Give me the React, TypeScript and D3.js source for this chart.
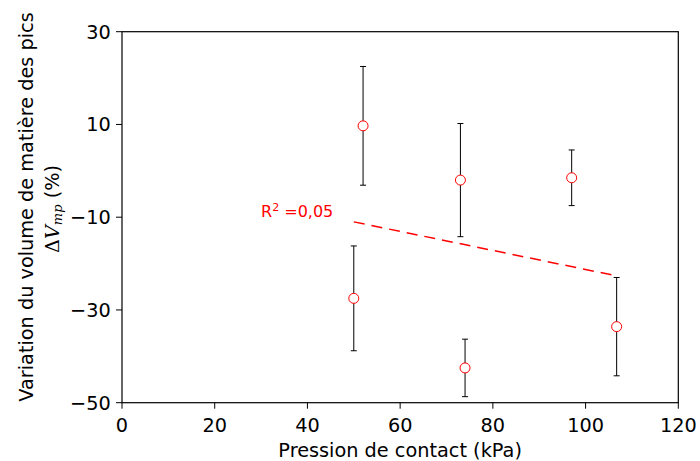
import React from "react";
import * as d3 from "d3";

const pressure = [50, 52, 73, 74, 97, 106.7];
const deltaV = [-27.5, 9.7, -2.0, -42.5, -1.5, -33.6];
const errorV = [11.3, 12.8, 12.2, 6.2, 6.0, 10.6];
const xTicks = [0, 20, 40, 60, 80, 100, 120];
const yTicks = [-50, -30, -10, 10, 30];
const r2Label = "=0,05";

const W = 700, H = 461;
const M = { left: 122, right: 678.3, top: 31.7, bottom: 402.7 };

export default function App() {
  const x = d3.scaleLinear().domain([0, 120]).range([M.left, M.right]);
  const y = d3.scaleLinear().domain([-50, 30]).range([M.bottom, M.top]);

  // least-squares fit from data
  const mx = d3.mean(pressure)!;
  const my = d3.mean(deltaV)!;
  let sxy = 0, sxx = 0;
  pressure.forEach((p, i) => {
    sxy += (p - mx) * (deltaV[i] - my);
    sxx += (p - mx) * (p - mx);
  });
  const slope = sxy / sxx;
  const icpt = my - slope * mx;
  const x0 = d3.min(pressure)!, x1 = d3.max(pressure)!;
  const fit = d3.line<number>().x((d) => x(d)).y((d) => y(icpt + slope * d));

  const font = "DejaVu Sans, sans-serif";
  const fs = 19.3;
  return (
    <svg width={W} height={H} style={{ position: "absolute", left: 0, top: 0, background: "#fff" }}>
      <rect x={0} y={0} width={W} height={H} fill="#fff" />
      {/* fit line */}
      <path d={fit([x0, x1])!} stroke="#ff0000" strokeWidth={1.5} strokeDasharray="11,7" fill="none" />
      {/* error bars */}
      {pressure.map((p, i) => {
        const cx = x(p);
        const t = y(deltaV[i] + errorV[i]);
        const b = y(deltaV[i] - errorV[i]);
        return (
          <g key={"e" + i} stroke="#000" strokeWidth={1}>
            <line x1={cx} x2={cx} y1={t} y2={b} />
            <line x1={cx - 3} x2={cx + 3} y1={t} y2={t} />
            <line x1={cx - 3} x2={cx + 3} y1={b} y2={b} />
          </g>
        );
      })}
      {pressure.map((p, i) => (
        <circle key={"c" + i} cx={x(p)} cy={y(deltaV[i])} r={5} fill="#fff" stroke="#ff0000" strokeWidth={1} />
      ))}
      {/* frame */}
      <rect x={M.left} y={M.top} width={M.right - M.left} height={M.bottom - M.top} fill="none" stroke="#000" strokeWidth={1.2} />
      {/* x ticks */}
      {xTicks.map((t) => (
        <g key={"xt" + t}>
          <line x1={x(t)} x2={x(t)} y1={M.bottom} y2={M.bottom + 6} stroke="#000" strokeWidth={1} />
          <text x={x(t)} y={431.7} textAnchor="middle" fontFamily={font} fontSize={fs} fill="#000">{t}</text>
        </g>
      ))}
      {yTicks.map((t) => (
        <g key={"yt" + t}>
          <line x1={M.left - 6} x2={M.left} y1={y(t)} y2={y(t)} stroke="#000" strokeWidth={1} />
          <text x={110.7} y={y(t)} dy="0.36em" textAnchor="end" fontFamily={font} fontSize={fs} fill="#000">
            {t < 0 ? "\u2212" + Math.abs(t) : t}
          </text>
        </g>
      ))}
      {/* axis labels */}
      <text x={(M.left + M.right) / 2} y={457} textAnchor="middle" fontFamily={font} fontSize={fs} fill="#000">
        Pression de contact (kPa)
      </text>
      <text transform="translate(33,207) rotate(-90)" textAnchor="middle" fontFamily={font} fontSize={fs} fill="#000">
        Variation du volume de matière des pics
      </text>
      <text transform="translate(59,209) rotate(-90)" textAnchor="middle" fontFamily={font} fontSize={fs} fill="#000">
        <tspan fontFamily="DejaVu Serif, serif">Δ</tspan>
        <tspan fontFamily="DejaVu Serif, serif" fontStyle="italic">V</tspan>
        <tspan fontFamily="DejaVu Serif, serif" fontStyle="italic" fontSize={13} dy={3}>mp</tspan>
        <tspan dy={-3}> (%)</tspan>
      </text>
      {/* R2 label */}
      <text x={261} y={217} fontFamily={font} fontSize={16} fill="#ff0000">
        R<tspan fontSize={11} dy={-6}>2</tspan>
        <tspan dy={6}> {r2Label}</tspan>
      </text>
    </svg>
  );
}
